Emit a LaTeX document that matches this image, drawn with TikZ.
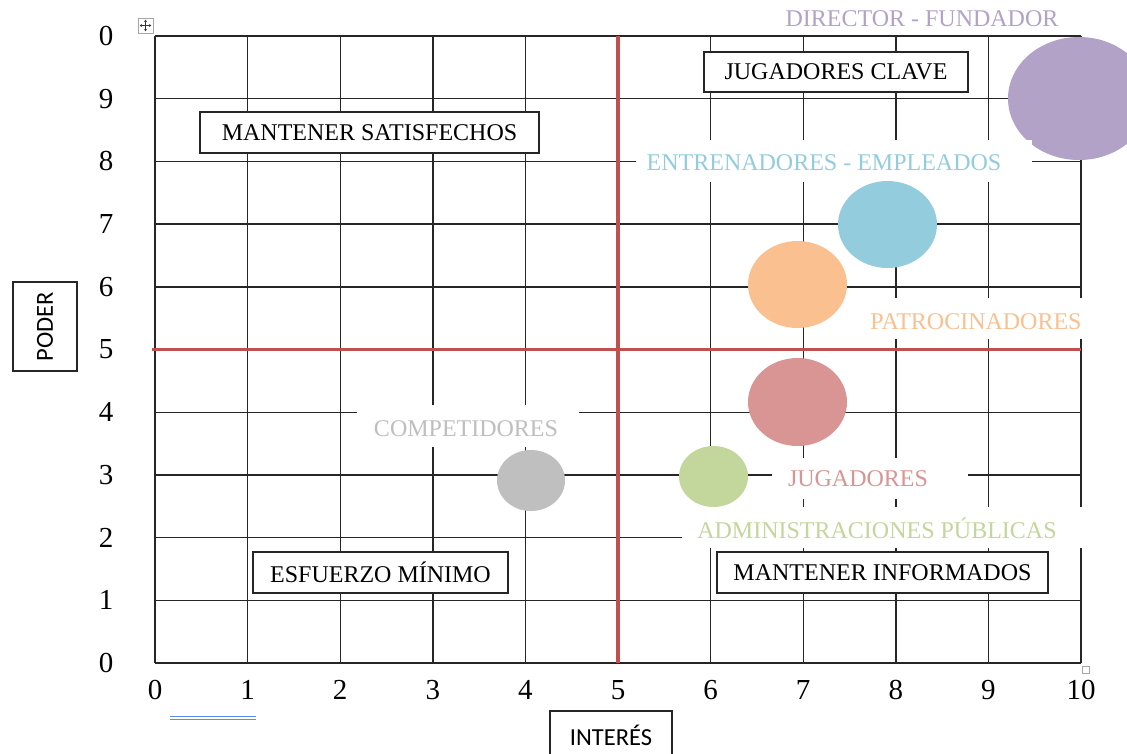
\documentclass[tikz,border=0pt]{standalone}
\usepackage{fontspec}
\setmainfont{Liberation Serif}
\newfontfamily\calib{Carlito}
\usetikzlibrary{shapes.geometric,arrows.meta}
\definecolor{cpurple}{HTML}{B3A2C7}
\definecolor{cblue}{HTML}{93CDDD}
\definecolor{corange}{HTML}{FAC090}
\definecolor{cpink}{HTML}{D99594}
\definecolor{cgreen}{HTML}{C3D69B}
\definecolor{cgray}{HTML}{BFBFBF}
\definecolor{cred}{HTML}{C0504D}
\definecolor{cgrid}{HTML}{262626}
\definecolor{cline}{HTML}{5B8DEF}
\tikzset{
  gridline/.style={draw=cgrid,line width=1.4pt},
  redline/.style={draw=cred,line width=3.6pt},
  bubble/.style={ellipse,inner sep=0pt,draw=none},
  gap/.style={fill=white,draw=none},
  tag/.style={font=\fontsize{24}{28}\selectfont,inner sep=0pt},
  framebox/.style={draw=cgrid,line width=1.3pt,fill=white,font=\fontsize{24}{28}\selectfont,inner sep=0pt},
  ticklab/.style={font=\fontsize{29}{32}\selectfont,inner sep=0pt},
  axisbox/.style={draw=cgrid,line width=1.2pt,fill=white,font=\calib\fontsize{24.5}{27}\selectfont,inner sep=0pt}
}
\begin{document}
\begin{tikzpicture}[x=1pt,y=-1pt]
\path[use as bounding box] (0,0) rectangle (1127,753);
\clip (0,0) rectangle (1127,753);
\fill[white] (0,0) rectangle (1127,753);
% grid
\foreach \i in {0,...,10}{
  \draw[gridline] ({155+92.6*\i},36) -- ({155+92.6*\i},663);
  \draw[gridline] (155,{663-62.7*\i}) -- (1081,{663-62.7*\i});
}
% red quadrant lines
\coordinate (rv1) at (618,36);
\coordinate (rv2) at (618,663);
\coordinate (rh1) at (152,349.5);
\coordinate (rh2) at (1081,349.5);
\draw[redline] (rv1) -- (rv2);
\draw[redline] (rh1) -- (rh2);
% purple bubble (under the label gap)
\node[bubble,fill=cpurple,minimum width=142pt,minimum height=123pt] (director) at (1079,98.5) {};
% label gaps
\fill[gap] (636,140) rectangle (1032,182);
\fill[gap] (858,298) rectangle (1095,339);
\fill[gap] (772,458) rectangle (968,499);
\fill[gap] (682,507) rectangle (1090,548);
\fill[gap] (357,405) rectangle (579,447);
% coloured labels
\node[tag,text=cpurple] (tdirector) at (922,19) {DIRECTOR - FUNDADOR};
\node[tag,text=cblue] (tentren) at (824,163) {ENTRENADORES - EMPLEADOS};
\node[tag,text=corange] (tpatro) at (976,322) {PATROCINADORES};
\node[tag,text=cpink] (tjug) at (858,479) {JUGADORES};
\node[tag,text=cgreen] (tadmin) at (877,528) {ADMINISTRACIONES PÚBLICAS};
\node[tag,text=cgray] (tcomp) at (466,429) {COMPETIDORES};
% bubbles
\node[bubble,fill=cblue,minimum width=99pt,minimum height=87pt] (entren) at (887.5,224.5) {};
\node[bubble,fill=corange,minimum width=99pt,minimum height=87pt] (patro) at (797.5,284.5) {};
\node[bubble,fill=cpink,minimum width=99pt,minimum height=88pt] (jug) at (797.5,402) {};
\node[bubble,fill=cgreen,minimum width=69pt,minimum height=61pt] (admin) at (713.5,476.5) {};
\node[bubble,fill=cgray,minimum width=68pt,minimum height=61pt] (comp) at (531,480.5) {};
% quadrant boxes
\node[framebox,minimum width=264pt,minimum height=40pt] (clave) at (836,72) {JUGADORES CLAVE};
\node[framebox,minimum width=339pt,minimum height=41pt] (satis) at (369.5,132.5) {MANTENER SATISFECHOS};
\node[framebox,minimum width=255pt,minimum height=41pt] (minimo) at (380.5,572.5) {ESFUERZO MÍNIMO};
\node[framebox,minimum width=331pt,minimum height=41pt] (inform) at (882.5,572.5) {MANTENER INFORMADOS};
% axis titles
\node[axisbox,rotate=90,minimum width=89pt,minimum height=64pt] (poder) at (45,326.5) {PODER};
\node[axisbox,minimum width=122pt,minimum height=50pt,text depth=0pt] (interes) at (611,736) {\raisebox{2pt}{INTERÉS}};
% y tick labels
\foreach \v/\j in {0/10,9/9,8/8,7/7,6/6,5/5,4/4,3/3,2/2,1/1,0/0}{
  \node[ticklab] (y\j) at (106,{663-62.7*\j}) {\v};
}
% x tick labels
\foreach \i in {0,...,10}{
  \node[ticklab] (x\i) at ({155+92.6*\i},690) {\i};
}
% blue double underline
\coordinate (u1) at (170,716);
\coordinate (u2) at (256,716);
\coordinate (u3) at (170,719.5);
\coordinate (u4) at (256,719.5);
\draw[cline,line width=1pt] (u1) -- (u2);
\draw[cline,line width=1pt] (u3) -- (u4);
% move handle icon
\node[draw=gray!70,fill=white,line width=0.8pt,minimum size=15pt,inner sep=0pt] (handle) at (145.5,25.5) {};
\draw[black!80,line width=0.7pt,{Stealth[length=2.5pt,width=3pt]}-{Stealth[length=2.5pt,width=3pt]}] ([xshift=2pt]handle.west) -- ([xshift=-2pt]handle.east);
\draw[black!80,line width=0.7pt,{Stealth[length=2.5pt,width=3pt]}-{Stealth[length=2.5pt,width=3pt]}] ([yshift=-2pt]handle.north) -- ([yshift=2pt]handle.south);
% resize handle
\node[draw=gray!70,fill=white,line width=0.8pt,minimum size=7pt,inner sep=0pt] (resize) at (1086,669.5) {};
\end{tikzpicture}
\end{document}
